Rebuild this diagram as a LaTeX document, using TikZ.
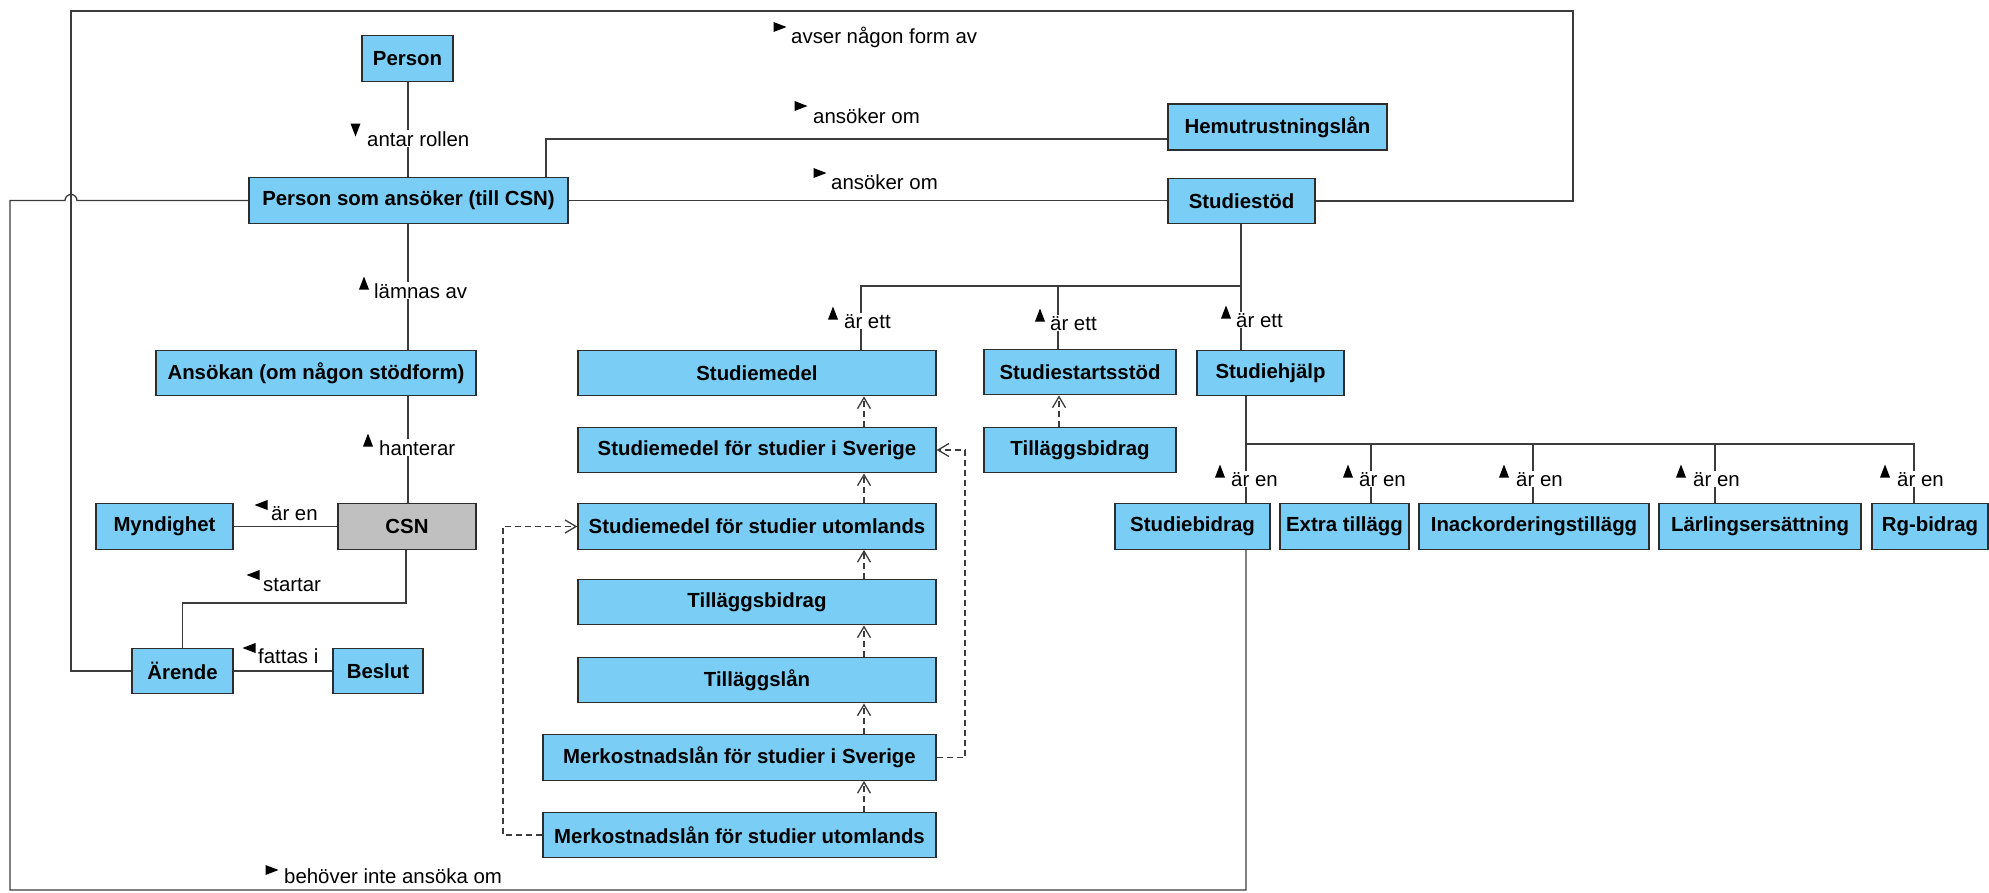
\documentclass[tikz,border=0pt]{standalone}
\usepackage{fontspec}
\setmainfont{Liberation Sans}
\usetikzlibrary{arrows.meta,calc}
\definecolor{boxblue}{RGB}{122,206,245}
\definecolor{boxgray}{RGB}{192,192,192}
\definecolor{edgec}{RGB}{60,60,60}
\definecolor{bordc}{RGB}{45,45,45}
\begin{document}
\begin{tikzpicture}[x=1pt,y=-1pt,
  box/.style={draw=bordc, line width=1.4pt, fill=boxblue, minimum height=45.5pt, inner sep=0pt, font=\fontsize{20.4}{24}\selectfont\bfseries},
  conn/.style={draw=edgec, line width=1.3pt},
  dep/.style={draw=edgec, line width=1.3pt, dash pattern=on 6pt off 4pt, -{Straight Barb[length=11pt,width=13pt]}},
  lab/.style={fill=white, inner xsep=0pt, inner ysep=1pt, anchor=base west, font=\fontsize{20.4}{24}\selectfont},
  tri/.pic={\fill[black] (-6.5,-5) -- (6.5,0) -- (-6.5,5) -- cycle;}
]
\useasboundingbox (0,0) rectangle (1989,892);

% boxes
\node[box,minimum width=91pt] (person) at (407.5,58.5) {Person};
\node[box,minimum width=319pt] (psa) at (408.5,200.5) {Person som ansöker (till CSN)};
\node[box,minimum width=219pt,minimum height=46pt] (hem) at (1277.5,127) {Hemutrustningslån};
\node[box,minimum width=147pt] (stod) at (1241.5,201) {Studiestöd};
\node[box,minimum width=320pt] (ans) at (316,373) {Ansökan (om någon stödform)};
\node[box,minimum width=138pt,fill=boxgray] (csn) at (407,526.5) {CSN};
\node[box,minimum width=137pt] (myn) at (164.5,526.5) {Myndighet};
\node[box,minimum width=101pt] (arende) at (182.5,671) {Ärende};
\node[box,minimum width=90pt] (beslut) at (378,671) {Beslut};
\node[box,minimum width=358pt] (smedel) at (757,373) {Studiemedel};
\node[box,minimum width=358pt] (ssv) at (757,450) {Studiemedel för studier i Sverige};
\node[box,minimum width=358pt] (sut) at (757,526.5) {Studiemedel för studier utomlands};
\node[box,minimum width=358pt] (tbl) at (757,602) {Tilläggsbidrag};
\node[box,minimum width=358pt] (tlan) at (757,680) {Tilläggslån};
\node[box,minimum width=393pt] (msv) at (739.5,757.5) {Merkostnadslån för studier i Sverige};
\node[box,minimum width=393pt] (mut) at (739.5,835) {Merkostnadslån för studier utomlands};
\node[box,minimum width=192pt] (sstart) at (1080,372) {Studiestartsstöd};
\node[box,minimum width=192pt] (tbr) at (1080,450) {Tilläggsbidrag};
\node[box,minimum width=147pt] (shj) at (1270.5,373) {Studiehjälp};
\node[box,minimum width=155pt] (sbi) at (1192.5,526.5) {Studiebidrag};
\node[box,minimum width=129pt] (extra) at (1344.5,526.5) {Extra tillägg};
\node[box,minimum width=230pt] (inack) at (1534,526.5) {Inackorderingstillägg};
\node[box,minimum width=202pt] (larl) at (1760,526.5) {Lärlingsersättning};
\node[box,minimum width=116pt] (rg) at (1930,526.5) {Rg-bidrag};

% left column connectors
\coordinate (mx) at (408,0);
\draw[conn] (person.south -| mx) -- (psa.north -| mx);
\draw[conn] (psa.south -| mx) -- (ans.north -| mx);
\draw[conn] (ans.south -| mx) -- (csn.north -| mx);
\draw[conn] (csn.west) -- (myn.east);
\coordinate (cx) at (406,603);
\draw[conn] (csn.south -| cx) -- (cx) -| (arende.north);
\draw[conn] (arende.east) -- (beslut.west);
\coordinate (hx) at (546,139);
\draw[conn] (psa.north -| hx) -- (hx) -- (hem.west |- hx);
\draw[conn] (psa.east) -- (psa.east -| stod.west);
\coordinate (tl) at (71,11);
\coordinate (tr) at (1573,11);
\draw[conn] (arende.west) -| (tl) -- (tr) |- (stod.east);
\coordinate (jump) at (71,200.5);
\coordinate (bl) at (10,890);
\coordinate (sbx) at (1246,890);
\draw[conn] (psa.west) -- ([xshift=6pt]jump) arc[start angle=0,end angle=180,radius=6pt] -- (bl |- jump) -- (bl) -- (sbx) -- (sbx |- sbi.south);

% Studiestöd tree
\coordinate (b1) at (861,286);
\coordinate (b2) at (1058,286);
\coordinate (b3) at (1241,286);
\draw[conn] (stod.south -| b3) -- (b3) -- (b1) -- (b1 |- smedel.north);
\draw[conn] (b2) -- (b2 |- sstart.north);
\draw[conn] (b3) -- (b3 |- shj.north);

% Studiehjälp tree
\coordinate (h1) at (1246,444);
\coordinate (h2) at (1371,444);
\coordinate (h3) at (1533,444);
\coordinate (h4) at (1715,444);
\coordinate (h5) at (1914,444);
\draw[conn] (shj.south -| h1) -- (h1) -- (h5) -- (h5 |- rg.north);
\draw[conn] (h1) -- (h1 |- sbi.north);
\draw[conn] (h2) -- (h2 |- extra.north);
\draw[conn] (h3) -- (h3 |- inack.north);
\draw[conn] (h4) -- (h4 |- larl.north);

% dependencies
\coordinate (dx) at (864,0);
\draw[dep] (ssv.north -| dx) -- (smedel.south -| dx);
\draw[dep] (sut.north -| dx) -- (ssv.south -| dx);
\draw[dep] (tbl.north -| dx) -- (sut.south -| dx);
\draw[dep] (tlan.north -| dx) -- (tbl.south -| dx);
\draw[dep] (msv.north -| dx) -- (tlan.south -| dx);
\draw[dep] (mut.north -| dx) -- (msv.south -| dx);
\coordinate (rx) at (965,0);
\coordinate (lx) at (503,0);
\draw[dep] (msv.east) -| (rx |- ssv.east) -- (ssv.east);
\draw[dep] (mut.west) -| (lx |- sut.west) -- (sut.west);
\coordinate (sx) at (1059,0);
\draw[dep] (tbr.north -| sx) -- (sstart.south -| sx);

% labels
\node[lab] (l1) at (367,146) {antar rollen}; \pic[rotate=-90] at (355.5,130) {tri};
\node[lab] (l2) at (374,298) {lämnas av}; \pic[rotate=90] at (364,283) {tri};
\node[lab] (l3) at (379,455) {hanterar}; \pic[rotate=90] at (368,440) {tri};
\node[lab] (l4) at (271,520) {är en}; \pic[rotate=180] at (261,505) {tri};
\node[lab] (l5) at (263,591) {startar}; \pic[rotate=180] at (253,575) {tri};
\node[lab] (l6) at (258,663) {fattas i}; \pic[rotate=180] at (249,648) {tri};
\node[lab] (l7) at (791,43) {avser någon form av}; \pic at (780,27) {tri};
\node[lab] (l8) at (813,123) {ansöker om}; \pic at (801,106) {tri};
\node[lab] (l9) at (831,189) {ansöker om}; \pic at (820,173) {tri};
\node[lab] (l10) at (284,883) {behöver inte ansöka om}; \pic at (272,870) {tri};
\node[lab] (l11) at (844,328) {är ett}; \pic[rotate=90] at (833,313) {tri};
\node[lab] (l12) at (1050,330) {är ett}; \pic[rotate=90] at (1040,315) {tri};
\node[lab] (l13) at (1236,327) {är ett}; \pic[rotate=90] at (1226,312) {tri};
\node[lab] (l14) at (1231,486) {är en}; \pic[rotate=90] at (1220,471) {tri};
\node[lab] (l15) at (1359,486) {är en}; \pic[rotate=90] at (1348,471) {tri};
\node[lab] (l16) at (1516,486) {är en}; \pic[rotate=90] at (1504,471) {tri};
\node[lab] (l17) at (1693,486) {är en}; \pic[rotate=90] at (1681,471) {tri};
\node[lab] (l18) at (1897,486) {är en}; \pic[rotate=90] at (1885,471) {tri};
\end{tikzpicture}
\end{document}
